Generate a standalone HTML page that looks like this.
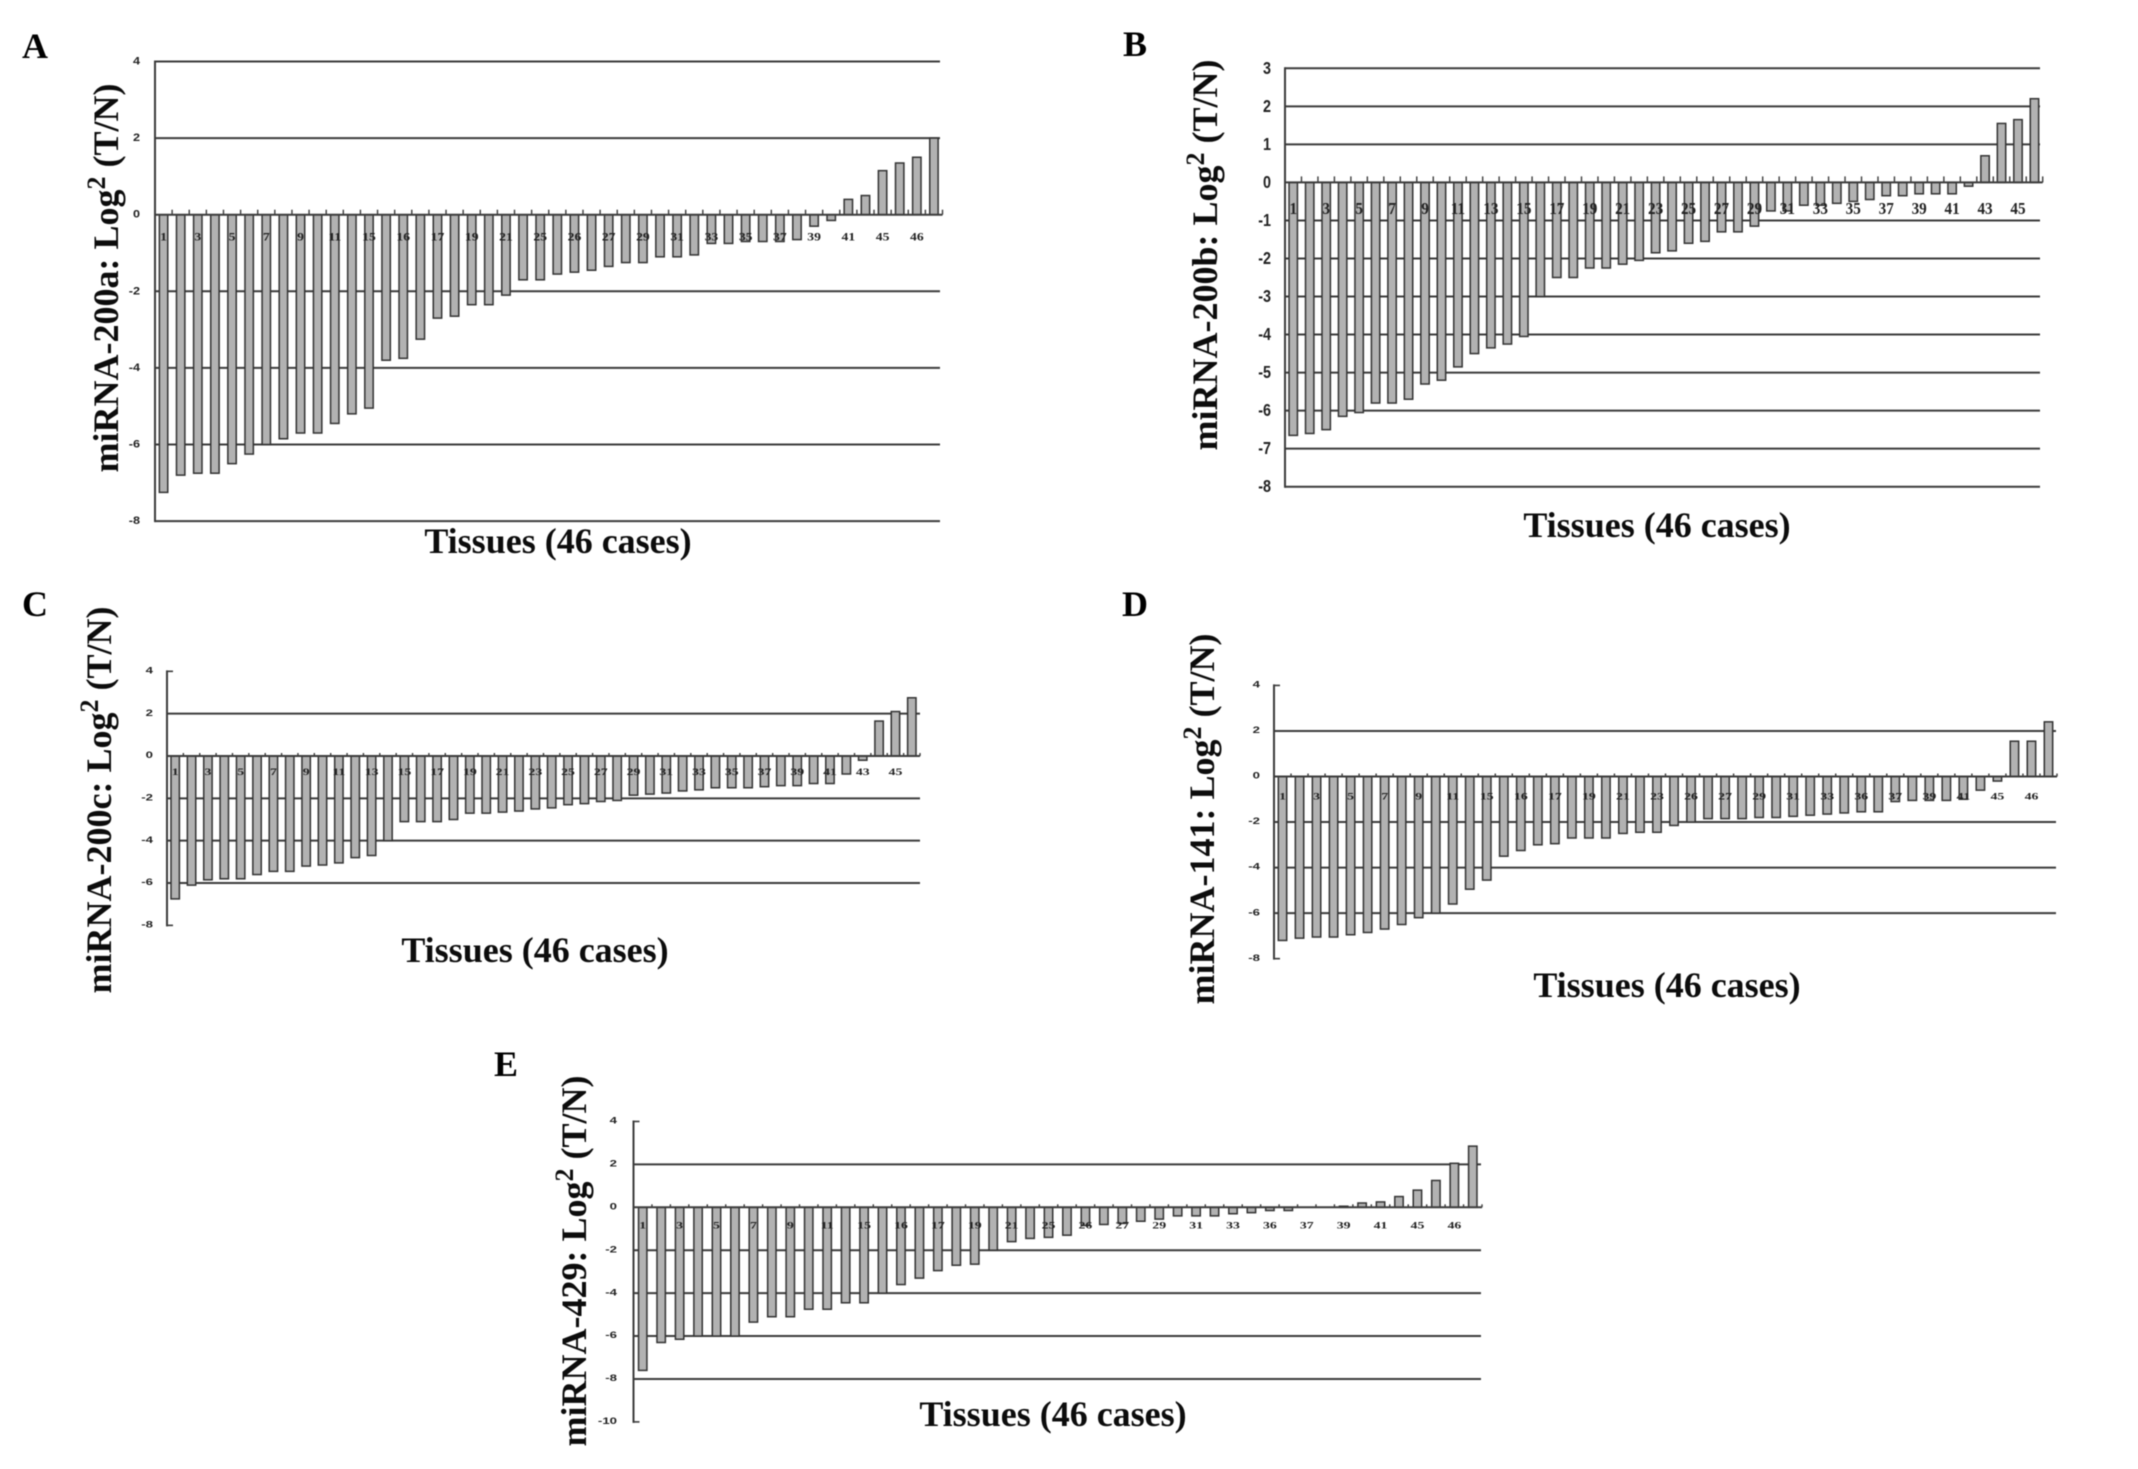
<!DOCTYPE html>
<html lang="en">
<head>
<meta charset="utf-8">
<title>miRNA-200 family expression in 46 tissue cases</title>
<style>
  html, body { margin: 0; padding: 0; background: #fff; }
  body { width: 2138px; height: 1469px; overflow: hidden; }
  svg { display: block; filter: blur(0.65px); }
  .panel-letter { font: bold 36px "Liberation Serif", serif; fill: #000; }
  .y-title { font: bold 36px "Liberation Serif", serif; fill: #0c0c0c; text-anchor: middle; }
  .x-title { font: bold 36px "Liberation Serif", serif; fill: #0c0c0c; text-anchor: middle; }
  .sup { font-size: 26px; }
  .y-tick { font-family: "Liberation Sans", sans-serif; font-weight: bold; fill: #222; text-anchor: end; }
  .x-tick { font-family: "Liberation Serif", serif; font-weight: bold; fill: #222; text-anchor: middle; }
</style>
</head>
<body>
<svg id="figure" xmlns="http://www.w3.org/2000/svg" width="2138" height="1469" viewBox="0 0 2138 1469">
  <rect width="2138" height="1469" fill="#ffffff"/>

  <text class="panel-letter" x="22" y="58">A</text>
  <text class="panel-letter" x="1123" y="56">B</text>
  <text class="panel-letter" x="22" y="616">C</text>
  <text class="panel-letter" x="1122" y="616">D</text>
  <text class="panel-letter" x="494" y="1076">E</text>

  <text class="y-title" transform="translate(118,278) rotate(-90)">miRNA-200a: Log<tspan class="sup" dy="-13">2</tspan><tspan dy="13"> (T/N)</tspan></text>
  <text class="y-title" transform="translate(1217,255) rotate(-90)">miRNA-200b: Log<tspan class="sup" dy="-13">2</tspan><tspan dy="13"> (T/N)</tspan></text>
  <text class="y-title" transform="translate(111,800) rotate(-90)">miRNA-200c: Log<tspan class="sup" dy="-13">2</tspan><tspan dy="13"> (T/N)</tspan></text>
  <text class="y-title" transform="translate(1214,819) rotate(-90)">miRNA-141: Log<tspan class="sup" dy="-13">2</tspan><tspan dy="13"> (T/N)</tspan></text>
  <text class="y-title" transform="translate(586,1261) rotate(-90)">miRNA-429: Log<tspan class="sup" dy="-13">2</tspan><tspan dy="13"> (T/N)</tspan></text>

  <text class="x-title" x="558" y="553">Tissues (46 cases)</text>
  <text class="x-title" x="1657" y="537">Tissues (46 cases)</text>
  <text class="x-title" x="535" y="962">Tissues (46 cases)</text>
  <text class="x-title" x="1667" y="997">Tissues (46 cases)</text>
  <text class="x-title" x="1053" y="1426">Tissues (46 cases)</text>
</svg>

<script>
// ---- chart data: log2(T/N) per tissue case ----
const valuesA = [-7.25,-6.8,-6.75,-6.75,-6.5,-6.25,-6,-5.85,-5.7,-5.7,-5.45,-5.2,-5.05,-3.8,-3.75,-3.25,-2.7,-2.65,-2.35,-2.35,-2.1,-1.7,-1.7,-1.55,-1.5,-1.45,-1.35,-1.25,-1.25,-1.1,-1.1,-1.05,-0.75,-0.75,-0.7,-0.7,-0.7,-0.65,-0.3,-0.15,0.4,0.5,1.15,1.35,1.5,2];
const valuesB = [-6.65,-6.6,-6.5,-6.15,-6.05,-5.8,-5.8,-5.7,-5.3,-5.2,-4.85,-4.5,-4.35,-4.25,-4.05,-3,-2.5,-2.5,-2.25,-2.25,-2.15,-2.05,-1.85,-1.8,-1.6,-1.55,-1.3,-1.3,-1.15,-0.75,-0.75,-0.6,-0.6,-0.55,-0.5,-0.45,-0.35,-0.35,-0.3,-0.3,-0.3,-0.1,0.7,1.55,1.65,2.2];
const valuesC = [-6.75,-6.1,-5.85,-5.8,-5.8,-5.6,-5.45,-5.45,-5.2,-5.15,-5.05,-4.8,-4.7,-4,-3.1,-3.1,-3.1,-3,-2.7,-2.7,-2.65,-2.6,-2.5,-2.45,-2.3,-2.25,-2.15,-2.1,-1.85,-1.8,-1.75,-1.65,-1.6,-1.5,-1.5,-1.5,-1.45,-1.4,-1.4,-1.3,-1.3,-0.85,-0.2,1.65,2.1,2.75];
const valuesD = [-7.2,-7.1,-7.05,-7.05,-6.95,-6.85,-6.7,-6.5,-6.2,-6,-5.6,-4.95,-4.55,-3.5,-3.25,-3,-2.95,-2.7,-2.7,-2.7,-2.5,-2.45,-2.45,-2.15,-2,-1.85,-1.85,-1.85,-1.8,-1.8,-1.75,-1.7,-1.65,-1.6,-1.55,-1.55,-1.1,-1.05,-1.05,-1.05,-1,-0.6,-0.2,1.55,1.55,2.4];
const valuesE = [-7.6,-6.3,-6.15,-6,-6,-6,-5.35,-5.1,-5.1,-4.75,-4.75,-4.45,-4.45,-4,-3.6,-3.3,-2.95,-2.7,-2.65,-2,-1.6,-1.45,-1.4,-1.3,-0.85,-0.8,-0.75,-0.65,-0.55,-0.4,-0.4,-0.4,-0.3,-0.25,-0.15,-0.15,0,0,0.05,0.2,0.25,0.5,0.8,1.25,2.05,2.85];

// ---- printed axis labels ----
const xLabelsA = ['1','3','5','7','9','11','15','16','17','19','21','25','26','27','29','31','33','35','37','39','41','45','46'];
const xLabelsB = ['1','3','5','7','9','11','13','15','17','19','21','23','25','27','29','31','33','35','37','39','41','43','45'];
const xLabelsC = ['1','3','5','7','9','11','13','15','17','19','21','23','25','27','29','31','33','35','37','39','41','43','45'];
const xLabelsD = ['1','3','5','7','9','11','15','16','17','19','21','23','26','27','29','31','33','36','37','39','41','45','46'];
const xLabelsE = ['1','3','5','7','9','11','15','16','17','19','21','25','26','27','29','31','33','36','37','39','41','45','46'];

const yTicksA = [4,2,0,-2,-4,-6,-8];
const yTicksB = [3,2,1,0,-1,-2,-3,-4,-5,-6,-7,-8];
const yTicksC = [4,2,0,-2,-4,-6,-8];
const yTicksD = [4,2,0,-2,-4,-6,-8];
const yTicksE = [4,2,0,-2,-4,-6,-8,-10];

const gridLinesA = [4,2,-2,-4,-6,-8];
const gridLinesB = [3,2,1,-1,-2,-3,-4,-5,-6,-7,-8];
const gridLinesC = [2,-2,-4,-6];
const gridLinesD = [2,-2,-4,-6];
const gridLinesE = [2,-2,-4,-6,-8];

// ---- panel layout (pixels) ----
const layouts = {
  a: { x0:155,  x1:942.5,  lineEnd:940,  y0:214.7,  unit:38.3,  tickH:5, cap:false, labelDy:22, labelSize:13, labelSx:1.05, labelSy:0.9,  yx:140,  ySize:11, ySx:1.15, ySy:1 },
  b: { x0:1285, x1:2042.7, lineEnd:2040, y0:182.4,  unit:38.04, tickH:6, cap:false, labelDy:26, labelSize:16, labelSx:0.95, labelSy:1.05, yx:1271, ySize:18, ySx:0.8,  ySy:1 },
  c: { x0:167,  x1:920,    lineEnd:920,  y0:756,    unit:21.17, tickH:3, cap:true,  labelDy:16, labelSize:12, labelSx:1.15, labelSy:0.8,  yx:153,  ySize:11, ySx:1.2,  ySy:0.8 },
  d: { x0:1274, x1:2057,   lineEnd:2056, y0:776.5,  unit:22.77, tickH:3, cap:true,  labelDy:20, labelSize:12, labelSx:1.15, labelSy:0.8,  yx:1260, ySize:11, ySx:1.2,  ySy:0.8 },
  e: { x0:633.5,x1:1482,   lineEnd:1481, y0:1207.3, unit:21.46, tickH:3, cap:true,  labelDy:18, labelSize:12, labelSx:1.15, labelSy:0.8,  yx:617,  ySize:11, ySx:1.2,  ySy:0.8 }
};

const NS = 'http://www.w3.org/2000/svg';
const root = document.getElementById('figure');
const AXIS = '#3c3c3c';

function xScale(p, i, n) { return p.x0 + (i + 0.5) * (p.x1 - p.x0) / n; }
function xEdge(p, i, n) { return p.x0 + i * (p.x1 - p.x0) / n; }
function yScale(p, v) { return p.y0 - v * p.unit; }

function makeLine(parent, x1, y1, x2, y2, width) {
  const l = document.createElementNS(NS, 'line');
  l.setAttribute('x1', x1);
  l.setAttribute('y1', y1);
  l.setAttribute('x2', x2);
  l.setAttribute('y2', y2);
  l.setAttribute('stroke', AXIS);
  l.setAttribute('stroke-width', width);
  parent.appendChild(l);
  return l;
}

function drawPanel(key, values, xLabels, yTicks, gridLines) {
  const p = layouts[key];
  const n = values.length;
  const g = document.createElementNS(NS, 'g');
  
  
  root.appendChild(g);

  // gridlines
  gridLines.forEach(function (v) {
    const grid = makeLine(g, p.x0, yScale(p, v), p.lineEnd, yScale(p, v), 2);
    
    
  });

  // y axis
  const top = yScale(p, yTicks[0]);
  const bottom = yScale(p, yTicks[yTicks.length - 1]);
  const yAxis = makeLine(g, p.x0, top - 1, p.x0, bottom + 1, 2);
  
  
  if (p.cap) {
    const capTop = makeLine(g, p.x0, top, p.x0 + 6, top, 1.6);
    
    
    const capBottom = makeLine(g, p.x0, bottom, p.x0 + 6, bottom, 1.6);
    
    
  }

  // y tick labels
  yTicks.forEach(function (t) {
    const label = document.createElementNS(NS, 'text');
    
    
    label.setAttribute('class', 'y-tick');
    label.setAttribute('font-size', p.ySize);
    const by = yScale(p, t) + p.ySize * 0.36 * p.ySy - 1;
    label.setAttribute('transform', 'translate(' + p.yx + ',' + by + ') scale(' + p.ySx + ',' + p.ySy + ')');
    label.textContent = String(t);
    g.appendChild(label);
  });

  // bars
  values.forEach(function (v, i) {
    const bar = document.createElementNS(NS, 'rect');
    
    
    const y = Math.min(yScale(p, v), p.y0);
    const h = Math.abs(yScale(p, v) - p.y0);
    bar.setAttribute('x', xScale(p, i, n) - 4.2);
    bar.setAttribute('y', y);
    bar.setAttribute('width', 8.4);
    bar.setAttribute('height', h);
    bar.setAttribute('fill', '#b2b2b2');
    bar.setAttribute('stroke', '#333');
    bar.setAttribute('stroke-width', 1.5);
    g.appendChild(bar);
  });

  // zero axis with category ticks
  const zero = makeLine(g, p.x0, p.y0, p.x1, p.y0, 2);
  
  
  for (let i = 1; i <= n; i++) {
    const tick = makeLine(g, xEdge(p, i, n), p.y0, xEdge(p, i, n), p.y0 - p.tickH, 1.4);
    
    
  }

  // x tick labels, printed under every second bar
  xLabels.forEach(function (txt, j) {
    const label = document.createElementNS(NS, 'text');
    
    
    label.setAttribute('class', 'x-tick');
    label.setAttribute('font-size', p.labelSize);
    const by = p.y0 + p.labelDy + p.labelSize * 0.33 * p.labelSy;
    label.setAttribute('transform', 'translate(' + xScale(p, j * 2, n) + ',' + by + ') scale(' + p.labelSx + ',' + p.labelSy + ')');
    label.textContent = txt;
    g.appendChild(label);
  });
}

drawPanel('a', valuesA, xLabelsA, yTicksA, gridLinesA);
drawPanel('b', valuesB, xLabelsB, yTicksB, gridLinesB);
drawPanel('c', valuesC, xLabelsC, yTicksC, gridLinesC);
drawPanel('d', valuesD, xLabelsD, yTicksD, gridLinesD);
drawPanel('e', valuesE, xLabelsE, yTicksE, gridLinesE);
</script>
</body>
</html>
